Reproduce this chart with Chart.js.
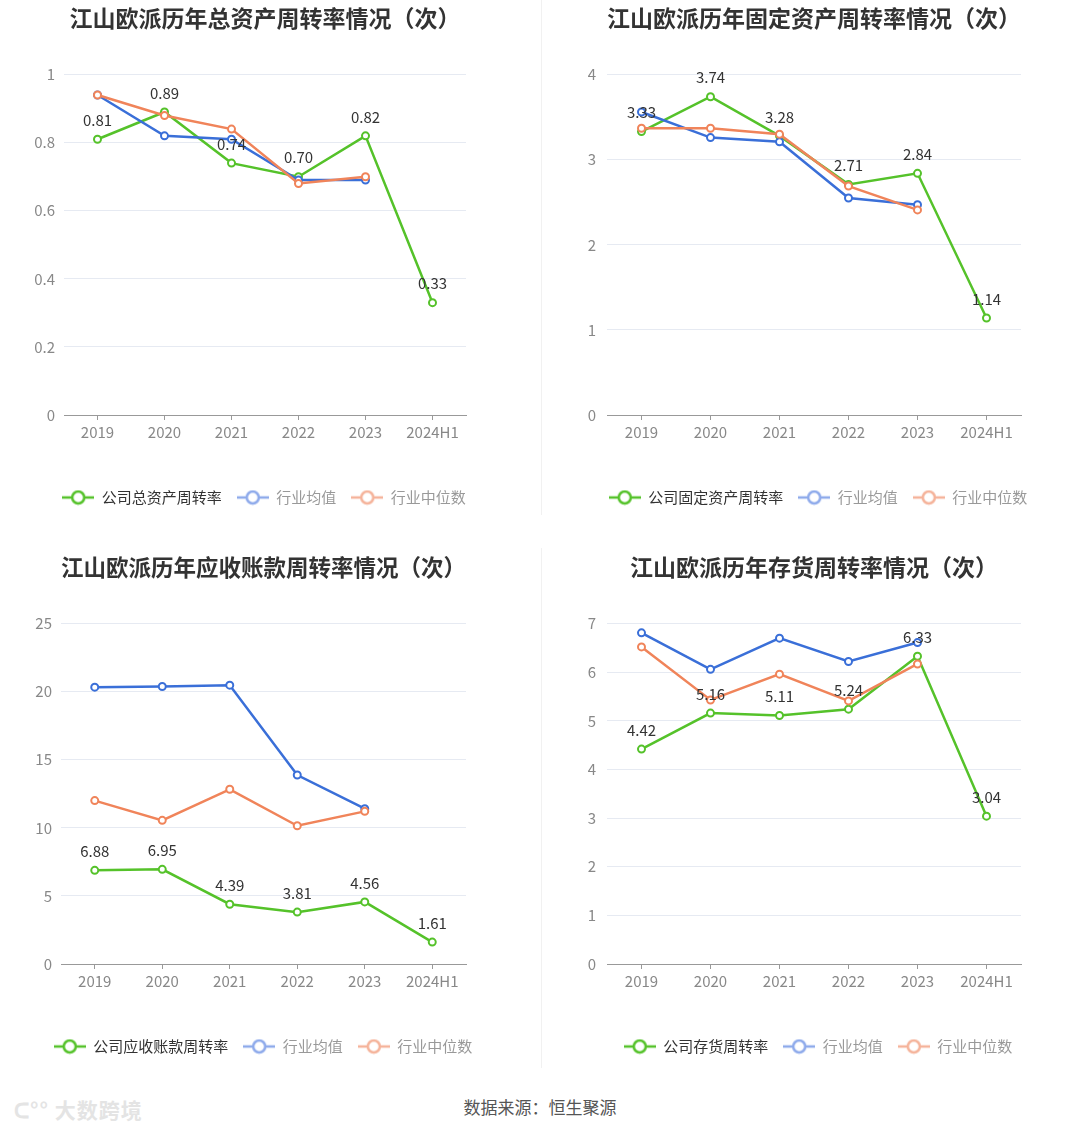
<!DOCTYPE html>
<html>
<head>
<meta charset="utf-8">
<script src="https://cdn.jsdelivr.net/npm/chart.js@4.4.1/dist/chart.umd.min.js"></script>
<style>
  body { margin: 0; background: #fff; width: 1080px; height: 1131px; position: relative; overflow: hidden;
         font-family: "Noto Sans CJK SC", "Noto Sans", sans-serif; }
  canvas { position: absolute; }
  .divider { position: absolute; left: 541px; width: 1px; background: #f1f1f1; }
  #source { position: absolute; top: 1094px; left: 0; width: 1080px; text-align: center; font-size: 17px; color: #555; }
  #mark { position: absolute; left: 14px; top: 1094px; font-size: 21px; font-weight: bold; color: #e4e4e4; letter-spacing: 1px; }
</style>
</head>
<body>
<div class="divider" style="top:0;height:515px"></div>
<div class="divider" style="top:548px;height:520px"></div>
<canvas id="c1" width="540" height="540" style="left:0;top:0"></canvas>
<canvas id="c2" width="540" height="540" style="left:540px;top:0"></canvas>
<canvas id="c3" width="540" height="540" style="left:0;top:549px"></canvas>
<canvas id="c4" width="540" height="540" style="left:540px;top:549px"></canvas>
<div id="mark">ᑕ°° 大数跨境</div>
<div id="source">数据来源：恒生聚源</div>
<script>
const years = ['2019', '2020', '2021', '2022', '2023', '2024H1'];

// 总资产周转率
const totalAssetCompany = [0.81, 0.89, 0.74, 0.70, 0.82, 0.33];
const totalAssetMean = [0.94, 0.82, 0.81, 0.69, 0.69, null];
const totalAssetMedian = [0.94, 0.88, 0.84, 0.68, 0.70, null];

// 固定资产周转率
const fixedAssetCompany = [3.33, 3.74, 3.28, 2.71, 2.84, 1.14];
const fixedAssetMean = [3.56, 3.26, 3.21, 2.55, 2.47, null];
const fixedAssetMedian = [3.37, 3.37, 3.30, 2.69, 2.41, null];

// 应收账款周转率
const receivableCompany = [6.88, 6.95, 4.39, 3.81, 4.56, 1.61];
const receivableMean = [20.33, 20.38, 20.48, 13.88, 11.41, null];
const receivableMedian = [12.00, 10.55, 12.83, 10.15, 11.21, null];

// 存货周转率
const inventoryCompany = [4.42, 5.16, 5.11, 5.24, 6.33, 3.04];
const inventoryMean = [6.81, 6.06, 6.70, 6.22, 6.61, null];
const inventoryMedian = [6.52, 5.43, 5.96, 5.41, 6.17, null];

const GREEN = '#55c22a';
const BLUE = '#3a6fd8';
const ORANGE = '#f0845a';

Chart.defaults.font.family = '"Noto Sans CJK SC", "Noto Sans", sans-serif';
Chart.defaults.animation = false;

// little "-o-" icon for the legend
function legendIcon(color) {
  const c = document.createElement('canvas');
  c.width = 32; c.height = 16;
  const g = c.getContext('2d');
  g.strokeStyle = color; g.lineWidth = 2.5;
  g.beginPath(); g.moveTo(0, 8); g.lineTo(32, 8); g.stroke();
  g.fillStyle = '#fff';
  g.beginPath(); g.arc(16, 8, 6, 0, Math.PI * 2); g.fill(); g.stroke();
  return c;
}
const icons = [legendIcon(GREEN), legendIcon('#8eaaeb'), legendIcon('#f5b39a')];

// value labels above the company line
const valueLabels = {
  id: 'valueLabels',
  afterDatasetsDraw(chart) {
    const meta = chart.getDatasetMeta(0);
    const values = chart.data.datasets[0].data;
    const ctx = chart.ctx;
    ctx.save();
    ctx.font = '15px "Noto Sans CJK SC", sans-serif';
    ctx.fillStyle = '#333';
    ctx.textAlign = 'center';
    ctx.textBaseline = 'middle';
    meta.data.forEach((pt, i) => {
      if (values[i] == null) return;
      ctx.fillText(values[i].toFixed(2), pt.x, pt.y - 19);
    });
    ctx.restore();
  }
};

function lineSet(label, data, color, order) {
  return {
    label, data, order,
    borderColor: color,
    backgroundColor: '#fff',
    borderWidth: 2.5,
    pointRadius: 3.5,
    pointBorderWidth: 2,
    pointBackgroundColor: '#fff',
    pointBorderColor: color,
    tension: 0,
    spanGaps: false
  };
}

// box: [padLeft, yAxisWidth, rightSpacer, padRight, tickPadding]
function makeChart(id, title, companyLabel, company, mean, median, yMax, yStep, box) {
  const [padL, yWidth, spacer, padR, tickPad] = box;
  new Chart(document.getElementById(id), {
    type: 'line',
    data: {
      labels: years,
      datasets: [
        lineSet(companyLabel, company, GREEN, 3),
        lineSet('行业均值', mean, BLUE, 2),
        lineSet('行业中位数', median, ORANGE, 1)
      ]
    },
    options: {
      responsive: false,
      layout: { padding: { left: padL, right: padR, top: 0, bottom: 25 } },
      plugins: {
        tooltip: { enabled: false },
        title: {
          display: true, text: title, fullSize: false,
          color: '#333', font: { size: 23, weight: 'bold' },
          padding: { top: 4, bottom: 43 }
        },
        legend: {
          position: 'bottom',
          labels: {
            usePointStyle: true, pointStyleWidth: 32, padding: 15,
            font: { size: 15 },
            generateLabels: chart => chart.data.datasets.map((ds, i) => ({
              text: ds.label,
              pointStyle: icons[i],
              fontColor: i === 0 ? '#333' : '#999',
              fillStyle: 'transparent', strokeStyle: 'transparent', lineWidth: 0,
              hidden: false, datasetIndex: i
            }))
          }
        }
      },
      scales: {
        x: {
          offset: true,
          grid: { offset: false, drawOnChartArea: false, drawTicks: true, tickLength: 5, color: '#999' },
          border: { color: '#999' },
          ticks: { color: '#888', font: { size: 15 }, padding: 3, maxRotation: 0, autoSkip: false },
          afterFit: s => { s.height = 60; }
        },
        y: {
          min: 0, max: yMax,
          grid: { color: '#e6eaf2', drawTicks: false },
          border: { display: false },
          ticks: {
            stepSize: yStep, color: '#888', font: { size: 15 }, padding: tickPad,
            callback: v => String(+v.toFixed(2))
          },
          afterFit: s => { s.width = yWidth; }
        },
        // empty right-hand box so the legend can be wider than the plot
        spacer: {
          position: 'right', display: true,
          grid: { display: false }, border: { display: false }, ticks: { display: false },
          afterFit: s => { s.width = spacer; }
        }
      }
    },
    plugins: [valueLabels]
  });
}

makeChart('c1', '江山欧派历年总资产周转率情况（次）', '公司总资产周转率',
  totalAssetCompany, totalAssetMean, totalAssetMedian, 1, 0.2, [20, 44, 42, 32, 9]);
makeChart('c2', '江山欧派历年固定资产周转率情况（次）', '公司固定资产周转率',
  fixedAssetCompany, fixedAssetMean, fixedAssetMedian, 4, 1, [20, 47, 55, 4, 11]);
makeChart('c3', '江山欧派历年应收账款周转率情况（次）', '公司应收账款周转率',
  receivableCompany, receivableMean, receivableMedian, 25, 5, [20, 41, 40, 34, 9]);
makeChart('c4', '江山欧派历年存货周转率情况（次）', '公司存货周转率',
  inventoryCompany, inventoryMean, inventoryMedian, 7, 1, [20, 47, 55, 4, 11]);
</script>
</body>
</html>
